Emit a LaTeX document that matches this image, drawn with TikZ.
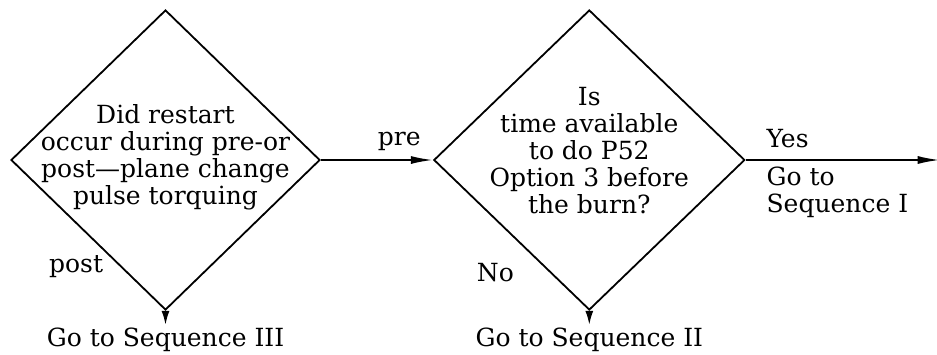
\documentclass[tikz,border=0pt]{standalone}
\usepackage{fontspec}
\setmainfont{DejaVu Serif}
\usepackage{tikz}
\usetikzlibrary{
  shapes.geometric,
  arrows.meta,
  positioning
}
\newcommand{\chartfont}{\fontsize{12.5pt}{13.5pt}\selectfont}
\tikzset{
  base/.style={font=\chartfont, inner sep=4pt},
  decision/.style={diamond, draw, line width=0.9pt, inner sep=0pt},
  question/.style={base, align=center, inner sep=0pt},
  answer/.style={base, align=left},
  flow/.style={-{Latex[length=11pt,width=4pt]}, line width=0.9pt},
  drop/.style={-{Latex[length=7pt,width=4pt]}, line width=0.9pt}
}

\begin{document}
\begin{tikzpicture}
    \useasboundingbox (0,0) rectangle (468.5pt,-177pt);
    % Nodes
    \node[decision, minimum width=154.5pt, minimum height=150pt] (restart) at (82.75pt,-80pt) {};
    \node[question] (restartq) at ([yshift=1.5pt]restart.center)
      {Did restart\\occur during pre-or\\post—plane change\\pulse torquing};
    \node[decision, minimum width=155.5pt, minimum height=150pt, right=56pt of restart] (avail) {};
    \node[question] (availq) at ([yshift=4.5pt]avail.center)
      {Is\\time available\\to do P52\\Option 3 before\\the burn?};
    \node[answer, inner sep=1.5pt, below=7pt of restart] (seqthree) {Go to Sequence III};
    \node[answer, inner sep=1.5pt, below=7pt of avail] (seqtwo) {Go to Sequence II};
    \node[base, above left=12.5pt and 27pt of restart.south] (postlbl) {post};
    \node[base, above left=10.5pt and 33.5pt of avail.south] (nolbl) {No};
    \coordinate[right=97pt of avail] (yesend);

    % Arrows
    \draw[flow] (restart) -- node[base, above, pos=0.7] (prelbl) {pre} (avail);
    \draw[drop] (restart) -- (seqthree);
    \draw[drop] (avail) -- (seqtwo);
    \draw[flow] (avail) --
      node[base, pos=0, above right, xshift=6pt, yshift=1.5pt] (yeslbl) {Yes}
      node[answer, pos=0, below right, xshift=6pt, yshift=1pt] (seqone) {Go to\\Sequence I}
      (yesend);
\end{tikzpicture}
\end{document}
